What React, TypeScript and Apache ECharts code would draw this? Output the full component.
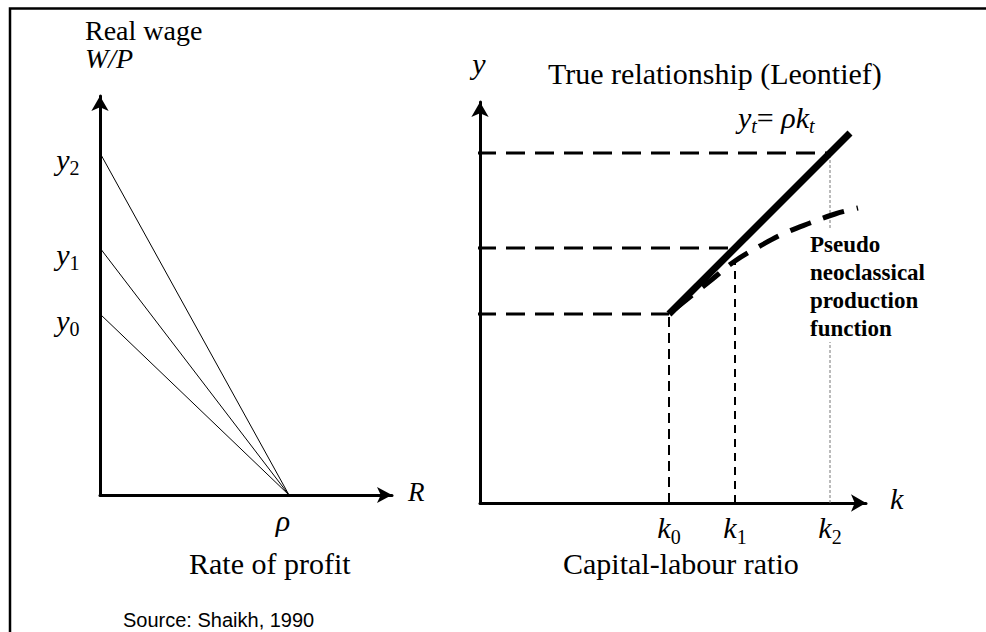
import React, { useEffect, useRef } from "react";
import * as echarts from "echarts";

// ---------------- data ----------------
const RHO = 1; // maximal rate of profit = output/capital ratio
const Y_LEVELS = [1.89, 2.55, 3.5]; // y0, y1, y2 (output per worker)
const Y_SUBS = ["0", "1", "2"];
const K_LEVELS = [1.89, 2.55, 3.5]; // k0, k1, k2 (capital per worker)
const K_SUBS = ["0", "1", "2"];
const LEONTIEF_K = [1.89, 3.7]; // y_t = rho * k_t
const LEONTIEF_Y = [1.89, 3.7];
const PSEUDO_K = [1.95, 2.3, 2.55, 2.8, 3.05, 3.3, 3.55, 3.78];
const PSEUDO_Y = [1.94, 2.22, 2.42, 2.57, 2.7, 2.8, 2.89, 2.95];

// axis ranges
const R_MAX = 1.545;
const W_MIN = 0.08;
const W_MAX = 4.07;
const K_MAX = 3.86;
const YK_MAX = 4.01;

// ---------------- layout ----------------
const LEFT = { left: 100, top: 96, width: 292, height: 399 };
const RIGHT = { left: 480, top: 102, width: 386, height: 401 };
const SERIF = "'Liberation Serif', 'Times New Roman', Times, serif";
const SANS = "'Liberation Sans', Arial, Helvetica, sans-serif";

const richItalic = { fontFamily: SERIF, fontStyle: "italic", fontSize: 30, lineHeight: 30, color: "#000", fill: "#000" };
const richSub = {
  fontFamily: SERIF,
  fontStyle: "normal",
  fontSize: 20,
  lineHeight: 12,
  height: 12,
  verticalAlign: "bottom",
  color: "#000",
  fill: "#000",
};
const richSubItalic = { ...richSub, fontStyle: "italic" };
const richNormal = { fontFamily: SERIF, fontStyle: "normal", fontSize: 30, lineHeight: 30, color: "#000", fill: "#000" };

export default function App() {
  const ref = useRef<HTMLDivElement>(null);

  useEffect(() => {
    if (!ref.current) return;
    const chart = echarts.init(ref.current, null, { renderer: "svg" });

    // left panel's vertical axis expressed in right panel's k units
    const kAtLeftAxis = ((LEFT.left - RIGHT.left) * K_MAX) / RIGHT.width;

    const axisCommon = {
      type: "value",
      splitLine: { show: false },
      axisTick: { show: false },
      axisLabel: { show: false },
      axisLine: {
        show: true,
        onZero: false,
        symbol: ["none", "arrow"],
        symbolSize: [13, 15],
        lineStyle: { color: "#000", width: 3 },
      },
    };

    const series: any[] = [];

    // wage-profit frontiers
    Y_LEVELS.forEach((y) => {
      series.push({
        type: "line",
        xAxisIndex: 0,
        yAxisIndex: 0,
        data: [
          [0, y],
          [RHO, W_MIN],
        ],
        symbol: "none",
        silent: true,
        lineStyle: { color: "#000", width: 1 },
        z: 3,
      });
    });

    // horizontal dashed guides from the W/P axis to the Leontief line
    Y_LEVELS.forEach((y, i) => {
      series.push({
        type: "line",
        xAxisIndex: 1,
        yAxisIndex: 1,
        clip: false,
        data: [
          [kAtLeftAxis, y],
          [K_LEVELS[i], y],
        ],
        symbol: "none",
        silent: true,
        lineStyle: { color: "#000", width: 3, type: [19, 10] },
        z: 2,
      });
    });

    // vertical guides
    series.push({
      type: "line",
      xAxisIndex: 1,
      yAxisIndex: 1,
      data: [
        [K_LEVELS[0], 0],
        [K_LEVELS[0], Y_LEVELS[0]],
      ],
      symbol: "none",
      silent: true,
      lineStyle: { color: "#000", width: 2, type: [10, 6] },
      z: 2,
    });
    series.push({
      type: "line",
      xAxisIndex: 1,
      yAxisIndex: 1,
      data: [
        [K_LEVELS[1], 0],
        [K_LEVELS[1], PSEUDO_Y[PSEUDO_K.indexOf(K_LEVELS[1])]],
      ],
      symbol: "none",
      silent: true,
      lineStyle: { color: "#000", width: 2, type: [8, 6] },
      z: 2,
    });
    series.push({
      type: "line",
      xAxisIndex: 1,
      yAxisIndex: 1,
      data: [
        [K_LEVELS[2], 0],
        [K_LEVELS[2], Y_LEVELS[2]],
      ],
      symbol: "none",
      silent: true,
      lineStyle: { color: "#777", width: 1, type: [3, 2] },
      z: 2,
    });

    // pseudo neoclassical production function
    series.push({
      type: "line",
      xAxisIndex: 1,
      yAxisIndex: 1,
      data: PSEUDO_K.map((k, i) => [k, PSEUDO_Y[i]]),
      smooth: 0.4,
      symbol: "none",
      silent: true,
      lineStyle: { color: "#000", width: 5, type: [22, 13] },
      z: 4,
    });

    // true relationship (Leontief)
    series.push({
      type: "line",
      xAxisIndex: 1,
      yAxisIndex: 1,
      data: LEONTIEF_K.map((k, i) => [k, LEONTIEF_Y[i]]),
      symbol: "none",
      silent: true,
      lineStyle: { color: "#000", width: 7 },
      z: 5,
    });

    const labelCarrier = {
      type: "scatter",
      symbol: "circle",
      symbolSize: 1,
      itemStyle: { color: "rgba(0,0,0,0)" },
      silent: true,
      z: 10,
    };
    const labelBase = {
      show: true,
      color: "#000",
      opacity: 1,
      textBorderWidth: 0,
      fontFamily: SERIF,
      fontSize: 30,
    };

    // labels y0..y2
    series.push({
      ...labelCarrier,
      xAxisIndex: 0,
      yAxisIndex: 0,
      data: Y_LEVELS.map((y, i) => ({ value: [0, y], name: Y_SUBS[i] })),
      label: {
        ...labelBase,
        position: "left",
        distance: 20,
        offset: [0, 6],
        formatter: (p: any) => `{v|y}{s|${p.name}}`,
        rich: { v: richItalic, s: richSub },
      },
    });

    // labels k0..k2
    series.push({
      ...labelCarrier,
      xAxisIndex: 1,
      yAxisIndex: 1,
      data: K_LEVELS.map((k, i) => ({ value: [k, 0], name: K_SUBS[i] })),
      label: {
        ...labelBase,
        position: "bottom",
        distance: 9,
        formatter: (p: any) => `{v|k}{s|${p.name}}`,
        rich: { v: richItalic, s: richSub },
      },
    });

    // label rho
    series.push({
      ...labelCarrier,
      xAxisIndex: 0,
      yAxisIndex: 0,
      data: [{ value: [RHO, W_MIN], name: "ρ" }],
      label: {
        ...labelBase,
        position: "bottom",
        distance: 10,
        offset: [-6, 0],
        formatter: "{v|ρ}",
        rich: { v: richItalic },
      },
    });

    const txt = (text: string, x: number, y: number, extra: any = {}) => ({
      type: "text",
      x,
      y,
      z: 50,
      silent: true,
      style: {
        text,
        fontFamily: SERIF,
        fontSize: 30,
        fill: "#000",
        align: "left",
        verticalAlign: "middle",
        ...extra,
      },
    });

    const option: any = {
      animation: false,
      backgroundColor: "#fff",
      grid: [
        { ...LEFT, containLabel: false, outerBoundsMode: "none" },
        { ...RIGHT, containLabel: false, outerBoundsMode: "none" },
      ],
      xAxis: [
        { ...axisCommon, gridIndex: 0, min: 0, max: R_MAX, axisLine: { ...axisCommon.axisLine, symbolSize: [12, 15] } },
        { ...axisCommon, gridIndex: 1, min: 0, max: K_MAX },
      ],
      yAxis: [
        { ...axisCommon, gridIndex: 0, min: W_MIN, max: W_MAX },
        { ...axisCommon, gridIndex: 1, min: 0, max: YK_MAX },
      ],
      series,
      graphic: [
        {
          type: "polyline",
          silent: true,
          z: 60,
          shape: {
            points: [
              [10, 680],
              [10, 8.5],
              [1010, 8.5],
            ],
          },
          style: { stroke: "#000", lineWidth: 2.5, fill: "none" },
        },
        txt("Real wage", 85, 30, { fontSize: 28, lineHeight: 26 }),
        txt("W/P", 85, 58.5, { fontStyle: "italic", fontSize: 28, lineHeight: 26 }),
        txt("R", 408, 492, { fontStyle: "italic", fontSize: 27 }),
        txt("Rate of profit", 189, 563),
        txt("y", 479, 63, { fontStyle: "italic", align: "center" }),
        txt("True relationship (Leontief)", 548, 73),
        txt("{v|y}{s|t}{n|=} {v|ρk}{s|t}", 738, 117, {
          rich: { v: richItalic, s: richSubItalic, n: richNormal },
        }),
        txt("k", 890, 498, { fontStyle: "italic" }),
        txt("Capital-labour ratio", 563, 563),
        txt("Pseudo\nneoclassical\nproduction\nfunction", 810, 230, {
          fontWeight: "bold",
          fontSize: 23,
          lineHeight: 28,
          verticalAlign: "top",
          backgroundColor: "#fff",
        }),
        txt("Source: Shaikh, 1990", 123, 620, { fontFamily: SANS, fontSize: 20 }),
      ],
    };

    chart.setOption(option);
    return () => chart.dispose();
  }, []);

  return (
    <div
      ref={ref}
      style={{ position: "absolute", left: 0, top: 0, width: 986, height: 632 }}
    />
  );
}
